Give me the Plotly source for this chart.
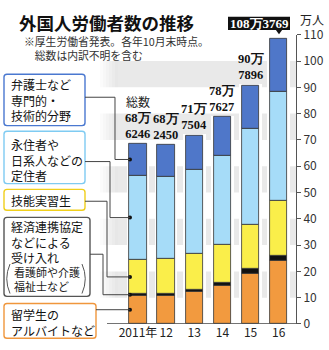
import numpy as np
import plotly.graph_objects as go

# ---------------- data ----------------
years = ["2011年", "12", "13", "14", "15", "16"]
totals = [686246, 682450, 717504, 787627, 907896, 1083769]          # persons
students = [10.85, 10.85, 12.18, 14.65, 19.23, 23.96]                # 万人 留学生のアルバイトなど
epa = [0.55, 0.66, 0.74, 1.09, 1.65, 1.87]                           # 経済連携協定など
trainees = [13.00, 13.42, 13.66, 14.54, 16.83, 21.11]                # 技能実習生
residents = [32.10, 30.89, 31.91, 33.74, 36.72, 41.34]               # 永住者・定住者
professionals = [12.12, 12.43, 13.26, 14.73, 16.36, 20.10]           # 専門的・技術的分野
y_ticks = [0, 10, 20, 30, 40, 50, 60, 70, 80, 90, 100, 110]

series = [
    ("留学生のアルバイトなど", students, "#F29A3F"),
    ("経済連携協定など", epa, "#111111"),
    ("技能実習生", trainees, "#FAEE4A"),
    ("定住者", residents, "#A6DCF8"),
    ("専門的・技術的分野", professionals, "#4F77C9"),
]

# ---------------- layout helpers ----------------
W, H = 329, 350
PX_L, PX_R = 118, 296        # plot area x (pixels)
PY_B, PY_T = 330, 26         # plot area y (pixels)
YMAX = 110
BAR_W = 0.62
HALO_W = 0.80
X_RANGE = [-0.711, 5.615]


def X(px):
    return px / W


def Y(py):
    return 1 - py / H


def V(py):  # pixel y -> axis value
    return (PY_B - py) * YMAX / (PY_B - PY_T)


SANS = "Noto Sans CJK JP"
SERIF = "Liberation Serif"

idx = list(range(len(years)))
tot_man = [t / 10000 for t in totals]

fig = go.Figure()

# white halo behind each bar
fig.add_trace(go.Bar(
    x=idx, y=[t + 0.6 for t in tot_man], base=0, width=HALO_W,
    marker=dict(color="white", line=dict(width=0)),
    hoverinfo="skip", showlegend=False,
))

base = np.zeros(len(years))
mids = []
for name, vals, col in series:
    vals = np.array(vals)
    fig.add_trace(go.Bar(
        x=idx, y=vals, base=base, width=BAR_W, name=name,
        marker=dict(color=col, line=dict(color="#333333", width=0.8)),
        showlegend=False,
    ))
    mids.append(base[0] + vals[0] / 2)
    base = base + vals

shapes = []
annotations = []

# gray bands (with soft fade at left)
for lo in y_ticks[1:-1:2]:
    shapes.append(dict(type="rect", xref="paper", yref="y", x0=X(PX_L), x1=X(PX_R),
                       y0=lo, y1=lo + 10, fillcolor="#E9E9E9", line=dict(width=0), layer="below"))
    for k in range(6):
        shapes.append(dict(type="rect", xref="paper", yref="y", x0=X(100 + 3 * k), x1=X(PX_L),
                           y0=lo, y1=lo + 10, fillcolor="rgba(0,0,0,0.0145)",
                           line=dict(width=0), layer="below"))

# base line
shapes.append(dict(type="line", xref="paper", yref="y", x0=X(107), x1=X(PX_R), y0=0, y1=0,
                   line=dict(color="#444444", width=1.5), layer="above"))


def rrect(x0, y0, x1, y1, r=3):
    pts = [("M", x0 + r, y0), ("L", x1 - r, y0), ("Q", x1, y0), ("", x1, y0 + r),
           ("L", x1, y1 - r), ("Q", x1, y1), ("", x1 - r, y1), ("L", x0 + r, y1),
           ("Q", x0, y1), ("", x0, y1 - r), ("L", x0, y0 + r), ("Q", x0, y0), ("", x0 + r, y0)]
    s = ""
    for c, px, py in pts:
        s += f"{c} {X(px):.5f},{Y(py):.5f} "
    return s + "Z"


# legend boxes: (x0, y0, x1, y1, border colour, text, text centre y)
boxes = [
    (4, 67.5, 85, 121.5, "#4A78D0", "弁護士など<br>専門的・<br>技術的分野", 95),
    (4, 127.5, 85, 182.5, "#7FCBF2", "永住者や<br>日系人などの<br>定住者", 157.5),
    (4, 188.5, 85, 210.5, "#F0CF1C", "技能実習生", 200),
    (4, 218, 90, 301, "#555555", "経済連携協定<br>などによる<br>受け入れ", 244),
    (4, 308.5, 96, 345, "#F0963C", "留学生の<br>アルバイトなど", 328.2),
]
for x0, y0, x1, y1, col, txt, yc in boxes:
    shapes.append(dict(type="path", xref="paper", yref="paper", path=rrect(x0, y0, x1, y1),
                       line=dict(color=col, width=1.4), fillcolor="white", layer="above"))
    annotations.append(dict(xref="paper", yref="paper", x=X(8.5), y=Y(yc), text=txt,
                            showarrow=False, xanchor="left", yanchor="middle", align="left",
                            font=dict(family=SANS, size=12, color="#111111")))

# small-print lines inside box 4 with parentheses
annotations.append(dict(xref="paper", yref="paper", x=X(12), y=Y(282.7), text="看護師や介護<br>福祉士など",
                        showarrow=False, xanchor="left", yanchor="middle", align="left",
                        font=dict(family=SANS, size=11, color="#222222")))
shapes.append(dict(type="path", xref="paper", yref="paper",
                   path=f"M {X(10):.5f},{Y(267):.5f} Q {X(3.5):.5f},{Y(282.5):.5f} {X(10):.5f},{Y(298):.5f}",
                   line=dict(color="#555555", width=1), layer="above"))
shapes.append(dict(type="path", xref="paper", yref="paper",
                   path=f"M {X(82):.5f},{Y(267):.5f} Q {X(88.5):.5f},{Y(282.5):.5f} {X(82):.5f},{Y(298):.5f}",
                   line=dict(color="#555555", width=1), layer="above"))

# leader lines (box edge -> segment middle of 2011 bar)
DOT_PX = 130
leaders = [  # (box right px, box y px, vertical x px, segment index)
    (85, 91.7, 115, 4),
    (85, 159.3, 110, 3),
    (85, 201.0, 107, 2),
    (90, 256.7, 103, 1),
]
for bx, by, vx, si in leaders:
    shapes.append(dict(type="path", xref="paper", yref="y",
                       path=f"M {X(bx):.5f},{V(by):.4f} H {X(vx):.5f} V {mids[si]:.4f} H {X(DOT_PX):.5f}",
                       line=dict(color="#444444", width=1), layer="above"))
shapes.append(dict(type="path", xref="paper", yref="y",
                   path=f"M {X(96):.5f},{mids[0]:.4f} H {X(DOT_PX):.5f}",
                   line=dict(color="#444444", width=1), layer="above"))

dot_x = X_RANGE[0] + (DOT_PX - PX_L) / ((PX_R - PX_L) / (X_RANGE[1] - X_RANGE[0]))
fig.add_trace(go.Scatter(x=[dot_x] * len(mids), y=mids, mode="markers",
                         marker=dict(size=4, color="#111111"), cliponaxis=False,
                         hoverinfo="skip", showlegend=False))

# total labels above bars
for i in range(len(years) - 1):
    t = totals[i]
    annotations.append(dict(xref="x", yref="y", x=i, y=tot_man[i],
                            text=f"<b>{t // 10000}万</b><br><b>{t % 10000:04d}</b>",
                            showarrow=False, yanchor="bottom", yshift=1,
                            font=dict(family=SERIF, size=12.5, color="#111111")))
annotations.append(dict(xref="x", yref="y", x=0, y=tot_man[0], text="総数",
                        showarrow=False, yanchor="bottom", yshift=32,
                        font=dict(family=SANS, size=12, color="#222222")))

# highlighted latest total
tl = totals[-1]
shapes.append(dict(type="rect", xref="paper", yref="paper", x0=X(228), x1=X(290), y0=Y(7), y1=Y(21),
                   fillcolor="#111111", line=dict(width=0), layer="above"))
shapes.append(dict(type="path", xref="paper", yref="paper",
                   path=f"M {X(275.5):.5f},{Y(20.5):.5f} L {X(282.5):.5f},{Y(20.5):.5f} L {X(279):.5f},{Y(25.5):.5f} Z",
                   fillcolor="#111111", line=dict(width=0), layer="above"))
annotations.append(dict(xref="paper", yref="paper", x=X(259), y=Y(14), text=f"<b>{tl // 10000}万{tl % 10000}</b>",
                        showarrow=False, xanchor="center", yanchor="middle",
                        font=dict(family=SERIF, size=13, color="white")))

# unit
annotations.append(dict(xref="paper", yref="paper", x=X(312), y=Y(10), text="万人",
                        showarrow=False, xanchor="center", yanchor="middle",
                        font=dict(family=SANS, size=12, color="#222222")))

# title and notes
annotations.append(dict(xref="paper", yref="paper", x=X(17), y=Y(13), text="<b>外国人労働者数の推移</b>",
                        showarrow=False, xanchor="left", yanchor="middle",
                        font=dict(family=SANS, size=17.5, color="#111111")))
annotations.append(dict(xref="paper", yref="paper", x=X(22), y=Y(40.2),
                        text="※厚生労働省発表。各年10月末時点。<br>　総数は内訳不明を含む",
                        showarrow=False, xanchor="left", yanchor="middle", align="left",
                        font=dict(family=SANS, size=10.8, color="#333333")))

fig.update_layout(
    width=W, height=H,
    margin=dict(l=0, r=0, t=0, b=0),
    paper_bgcolor="white", plot_bgcolor="rgba(0,0,0,0)",
    barmode="overlay", bargap=0,
    xaxis=dict(domain=[X(PX_L), X(PX_R)], range=X_RANGE, tickmode="array", tickvals=idx,
               ticktext=years, tickangle=0, showline=False, showgrid=False, zeroline=False, ticks="",
               tickfont=dict(family=SANS, size=12, color="#222222"), fixedrange=True),
    yaxis=dict(domain=[Y(PY_B), Y(PY_T)], range=[0, YMAX], side="right", tickmode="array",
               tickvals=y_ticks, showline=True, linecolor="#555555", linewidth=1,
               ticks="outside", ticklen=4, tickcolor="#555555", tickwidth=1,
               showgrid=False, zeroline=False,
               tickfont=dict(family=SANS, size=12, color="#333333"), fixedrange=True),
    shapes=shapes, annotations=annotations,
    showlegend=False,
)

fig.write_html("out.html")
